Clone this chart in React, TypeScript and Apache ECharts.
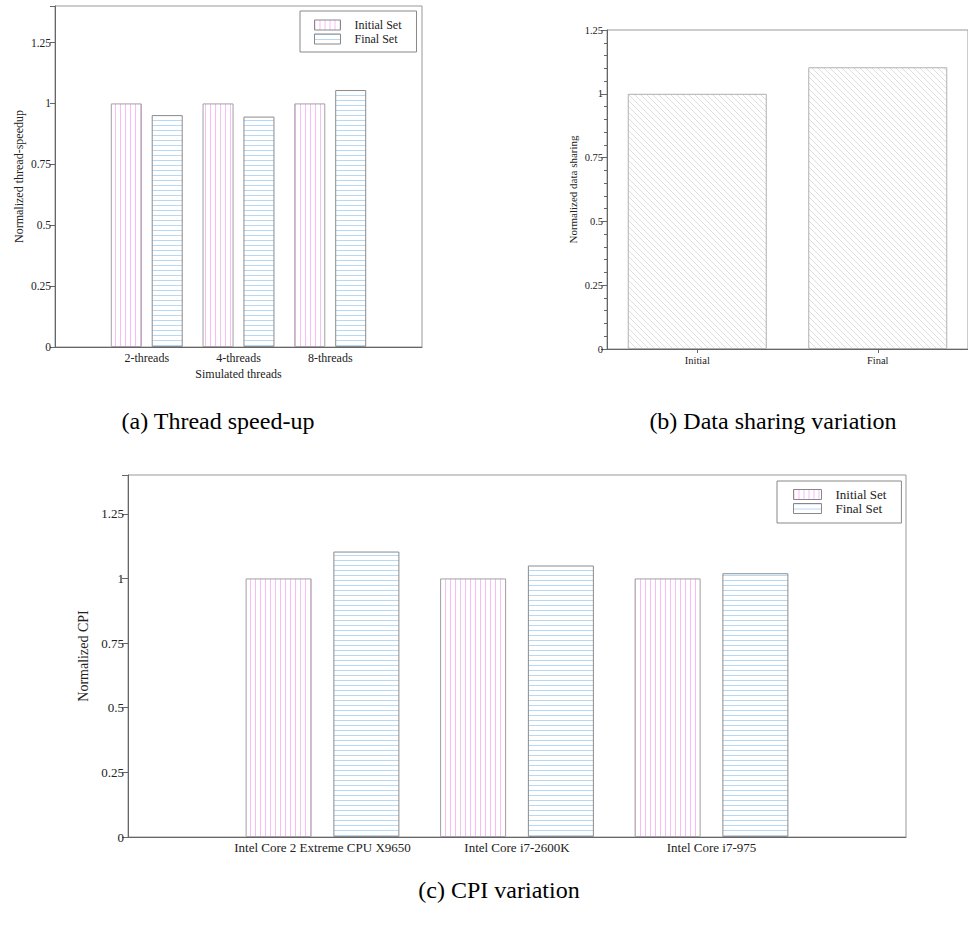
import React, { useEffect, useRef } from "react";
import * as echarts from "echarts";

// ---- data ----
const threadCategories = ["", "2-threads", "4-threads", "8-threads", ""];
const threadInitial = [null, 1, 1, 1, null];
const threadFinal = [null, 0.952, 0.946, 1.055, null];

const sharingCategories = ["Initial", "Final"];
const sharingValues = [1, 1.104];

const cpuCategories = [
  "",
  "Intel Core 2 Extreme CPU X9650",
  "Intel Core i7-2600K",
  "Intel Core i7-975",
  "",
];
const cpuInitial = [null, 1, 1, 1, null];
const cpuFinal = [null, 1.104, 1.05, 1.02, null];

const legendNames = ["Initial Set", "Final Set"];

const captions = ["(a) Thread speed-up", "(b) Data sharing variation", "(c) CPI variation"];

const FONT = "Liberation Serif";

function makeStripes(vertical: boolean, color: string, period: number) {
  const c = document.createElement("canvas");
  c.width = vertical ? period : 1;
  c.height = vertical ? 1 : period;
  const ctx = c.getContext("2d")!;
  ctx.fillStyle = "#ffffff";
  ctx.fillRect(0, 0, c.width, c.height);
  ctx.fillStyle = color;
  ctx.fillRect(0, 0, 1, 1);
  return { image: c, repeat: "repeat" as const };
}

function makeHatch(color: string, size: number) {
  const c = document.createElement("canvas");
  c.width = size;
  c.height = size;
  const ctx = c.getContext("2d")!;
  ctx.fillStyle = "#ffffff";
  ctx.fillRect(0, 0, size, size);
  ctx.fillStyle = color;
  for (let i = 0; i < size; i++) ctx.fillRect(i, i, 1, 1);
  return { image: c, repeat: "repeat" as const };
}

export default function App() {
  const ref = useRef<HTMLDivElement>(null);

  useEffect(() => {
    if (!ref.current) return;
    const chart = echarts.init(ref.current, null, { renderer: "svg" });

    const pink = makeStripes(true, "#f8bcf8", 5);
    const blue = makeStripes(false, "#b8d9f4", 5);
    const hatch = makeHatch("#dedede", 6);

    const axisLineStyle = { color: "#666", width: 1 };
    const labelBase = { fontFamily: FONT, color: "#222" };
    const captionStyle = (text: string) => ({
      text,
      font: `24px "${FONT}"`,
      fill: "#000",
      textAlign: "center",
      textVerticalAlign: "middle",
    });

    const option: any = {
      animation: false,
      backgroundColor: "#ffffff",
      grid: [
        { left: 55, top: 6, width: 367, height: 341, show: true, borderColor: "#999", borderWidth: 1 },
        { left: 607, top: 30, width: 369, height: 319, show: true, borderColor: "#999", borderWidth: 1 },
        { left: 128, top: 475, width: 778, height: 362, show: true, borderColor: "#999", borderWidth: 1 },
      ],
      legend: [
        {
          data: legendNames,
          orient: "vertical",
          left: 300,
          top: 11,
          itemWidth: 26,
          itemHeight: 10,
          itemGap: 2,
          padding: [8, 15, 7, 14],
          borderColor: "#888",
          borderWidth: 1,
          selectedMode: false,
          icon: "rect",
          itemStyle: { borderColor: "#888", borderWidth: 1 },
          textStyle: { ...labelBase, fontSize: 12, padding: [0, 0, 0, 9] },
        },
        {
          data: legendNames,
          orient: "vertical",
          left: 777,
          top: 481,
          itemWidth: 28,
          itemHeight: 10,
          itemGap: 1,
          padding: [7, 15, 8, 16],
          borderColor: "#888",
          borderWidth: 1,
          selectedMode: false,
          icon: "rect",
          itemStyle: { borderColor: "#888", borderWidth: 1 },
          textStyle: { ...labelBase, fontSize: 13, padding: [0, 0, 0, 9] },
        },
      ],
      xAxis: [
        {
          gridIndex: 0,
          type: "category",
          data: threadCategories,
          boundaryGap: false,
          axisLine: { lineStyle: axisLineStyle },
          axisTick: { show: false },
          axisLabel: { ...labelBase, fontSize: 12, margin: 5, interval: 0 },
          name: "Simulated threads",
          nameLocation: "middle",
          nameGap: 21,
          nameTextStyle: { ...labelBase, fontSize: 12 },
        },
        {
          gridIndex: 1,
          type: "category",
          data: sharingCategories,
          boundaryGap: true,
          axisLine: { lineStyle: axisLineStyle },
          axisTick: { show: true, alignWithLabel: true, length: 4, lineStyle: axisLineStyle },
          axisLabel: { ...labelBase, fontSize: 10.5, margin: 6, interval: 0 },
        },
        {
          gridIndex: 2,
          type: "category",
          data: cpuCategories,
          boundaryGap: false,
          axisLine: { lineStyle: axisLineStyle },
          axisTick: { show: false },
          axisLabel: { ...labelBase, fontSize: 13, margin: 4, interval: 0 },
        },
      ],
      yAxis: [
        {
          gridIndex: 0,
          type: "value",
          min: 0,
          max: 1.4,
          interval: 0.25,
          splitLine: { show: false },
          axisLine: { show: true, lineStyle: axisLineStyle },
          axisTick: { show: true, length: 5, lineStyle: axisLineStyle },
          axisLabel: {
            ...labelBase,
            fontSize: 11.5,
            margin: 4,
            formatter: (v: number) => (v > 1.3 ? "" : String(v)),
          },
          name: "Normalized thread-speedup",
          nameLocation: "middle",
          nameGap: 30,
          nameTextStyle: { ...labelBase, fontSize: 12 },
        },
        {
          gridIndex: 1,
          type: "value",
          min: 0,
          max: 1.25,
          interval: 0.25,
          splitLine: { show: false },
          axisLine: { show: true, lineStyle: axisLineStyle },
          axisTick: { show: true, length: 6, lineStyle: axisLineStyle },
          minorTick: { show: true, splitNumber: 5, length: 3, lineStyle: axisLineStyle },
          axisLabel: { ...labelBase, fontSize: 10.5, margin: 4 },
          name: "Normalized data sharing",
          nameLocation: "middle",
          nameGap: 29,
          nameTextStyle: { ...labelBase, fontSize: 11 },
        },
        {
          gridIndex: 2,
          type: "value",
          min: 0,
          max: 1.4,
          interval: 0.25,
          splitLine: { show: false },
          axisLine: { show: true, lineStyle: axisLineStyle },
          axisTick: { show: true, length: 6, lineStyle: axisLineStyle },
          axisLabel: {
            ...labelBase,
            fontSize: 13,
            margin: 4,
            formatter: (v: number) => (v > 1.3 ? "" : String(v)),
          },
          name: "Normalized CPI",
          nameLocation: "middle",
          nameGap: 33,
          nameTextStyle: { ...labelBase, fontSize: 14 },
        },
      ],
      series: [
        {
          type: "bar",
          name: legendNames[0],
          xAxisIndex: 0,
          yAxisIndex: 0,
          data: threadInitial,
          barWidth: 31,
          barGap: "32%",
          itemStyle: { color: pink, borderColor: "#a0a0a0", borderWidth: 1 },
        },
        {
          type: "bar",
          name: legendNames[1],
          xAxisIndex: 0,
          yAxisIndex: 0,
          data: threadFinal,
          barWidth: 31,
          barGap: "32%",
          itemStyle: { color: blue, borderColor: "#8a8a8a", borderWidth: 1 },
        },
        {
          type: "bar",
          name: "Data sharing",
          xAxisIndex: 1,
          yAxisIndex: 1,
          data: sharingValues,
          barWidth: 139,
          itemStyle: { color: hatch, borderColor: "#b0b0b0", borderWidth: 1 },
        },
        {
          type: "bar",
          name: legendNames[0],
          xAxisIndex: 2,
          yAxisIndex: 2,
          data: cpuInitial,
          barWidth: 66,
          barGap: "33%",
          itemStyle: { color: pink, borderColor: "#a0a0a0", borderWidth: 1 },
        },
        {
          type: "bar",
          name: legendNames[1],
          xAxisIndex: 2,
          yAxisIndex: 2,
          data: cpuFinal,
          barWidth: 66,
          barGap: "33%",
          itemStyle: { color: blue, borderColor: "#8a8a8a", borderWidth: 1 },
        },
      ],
      graphic: [
        { type: "text", x: 218, y: 421, style: captionStyle(captions[0]) },
        { type: "text", x: 773, y: 421, style: captionStyle(captions[1]) },
        { type: "text", x: 499, y: 890, style: captionStyle(captions[2]) },
      ],
    };

    chart.setOption(option);
    return () => chart.dispose();
  }, []);

  return (
    <div
      ref={ref}
      style={{ position: "absolute", left: 0, top: 0, width: 968, height: 930, background: "#fff" }}
    />
  );
}
